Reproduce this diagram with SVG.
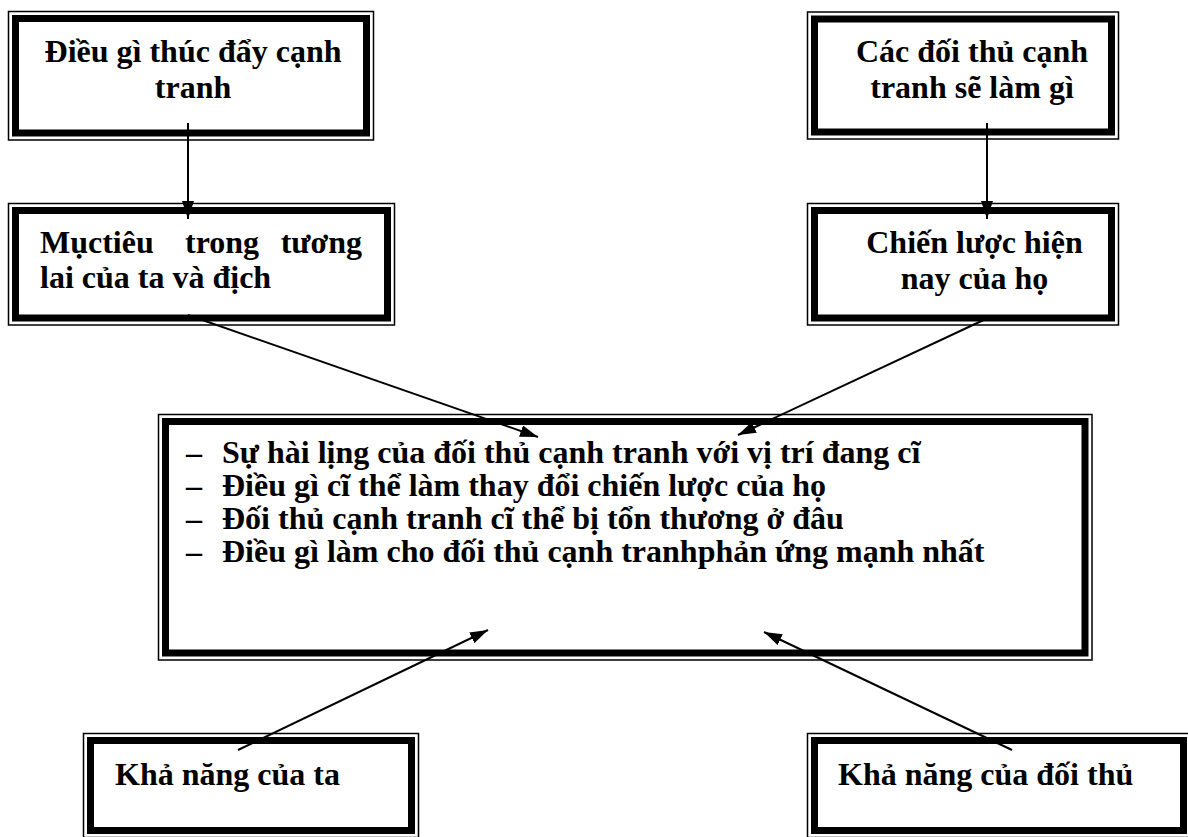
<svg xmlns="http://www.w3.org/2000/svg" width="1188" height="837" viewBox="0 0 1188 837">
<style>
.outer{fill:none;stroke:#000;stroke-width:1.5}
.inner{fill:none;stroke:#000;stroke-width:7}
.t{font-family:"Liberation Serif","Times New Roman",serif;font-weight:bold;font-size:32px;fill:#000}
.c{text-anchor:middle}
.conn{stroke:#000;stroke-width:2;fill:none}
</style>
<defs>
<marker id="ah" markerUnits="userSpaceOnUse" viewBox="0 0 18 12" refX="18" refY="6" markerWidth="18" markerHeight="12" orient="auto">
<path d="M0,0 L18,6 L0,12 z" fill="#000"/>
</marker>
</defs>
<rect width="1188" height="837" fill="#fff"/>
<g id="n1">
<rect class="outer" x="8.5" y="11.5" width="365" height="128.5"/>
<rect class="inner" x="15.5" y="18.5" width="351" height="114.5"/>
<text class="t c" x="193" y="62">Điều gì thúc đẩy cạnh</text>
<text class="t c" x="193" y="98">tranh</text>
</g>
<g id="n2">
<rect class="outer" x="807.5" y="12" width="311" height="127"/>
<rect class="inner" x="814.5" y="19" width="297" height="113"/>
<text class="t c" x="972" y="62">Các đối thủ cạnh</text>
<text class="t c" x="972" y="98">tranh sẽ làm gì</text>
</g>
<g id="n3">
<rect class="outer" x="8.5" y="203.5" width="386" height="121.5"/>
<rect class="inner" x="15.5" y="210.5" width="372" height="107.5"/>
<text class="t" x="40" y="253">Mụctiêu</text>
<text class="t" x="185" y="253">trong</text>
<text class="t" x="362" y="253" text-anchor="end">tương</text>
<text class="t" x="40" y="288">lai của ta và địch</text>
</g>
<g id="n4">
<rect class="outer" x="807.5" y="203.5" width="311" height="121.5"/>
<rect class="inner" x="814.5" y="210.5" width="297" height="107.5"/>
<text class="t c" x="974.5" y="253">Chiến lược hiện</text>
<text class="t c" x="974.5" y="289">nay của họ</text>
</g>
<g id="n5">
<rect class="outer" x="158.5" y="414.5" width="933.5" height="245.5"/>
<rect class="inner" x="165.5" y="421.5" width="919.5" height="231.5"/>
<text class="t" x="186" y="463">–</text>
<text class="t" x="222" y="463">Sự hài lịng của đối thủ cạnh tranh với vị trí đang cĩ</text>
<text class="t" x="186" y="496">–</text>
<text class="t" x="222" y="496">Điều gì cĩ thể làm thay đổi chiến lược của họ</text>
<text class="t" x="186" y="529">–</text>
<text class="t" x="222" y="529">Đối thủ cạnh tranh cĩ thể bị tổn thương ở đâu</text>
<text class="t" x="186" y="562">–</text>
<text class="t" x="222" y="562">Điều gì làm cho đối thủ cạnh tranhphản ứng mạnh nhất</text>
</g>
<g id="n6">
<rect class="outer" x="83.5" y="733.5" width="335" height="104"/>
<rect class="inner" x="90.5" y="740.5" width="321" height="90"/>
<text class="t" x="115" y="785">Khả năng của ta</text>
</g>
<g id="n7">
<rect class="outer" x="807.5" y="733.5" width="383" height="104"/>
<rect class="inner" x="814.5" y="740.5" width="369" height="90"/>
<text class="t" x="838" y="785">Khả năng của đối thủ</text>
</g>
<g id="connectors">
<line class="conn" x1="188" y1="123" x2="188" y2="219" marker-end="url(#ah)"/>
<line class="conn" x1="987" y1="123" x2="987" y2="219" marker-end="url(#ah)"/>
<line class="conn" x1="188" y1="315" x2="538" y2="437" marker-end="url(#ah)"/>
<line class="conn" x1="990" y1="317" x2="738" y2="435" marker-end="url(#ah)"/>
<line class="conn" x1="238" y1="750" x2="488" y2="630" marker-end="url(#ah)"/>
<line class="conn" x1="1012" y1="750" x2="764" y2="632" marker-end="url(#ah)"/>
</g>
</svg>
